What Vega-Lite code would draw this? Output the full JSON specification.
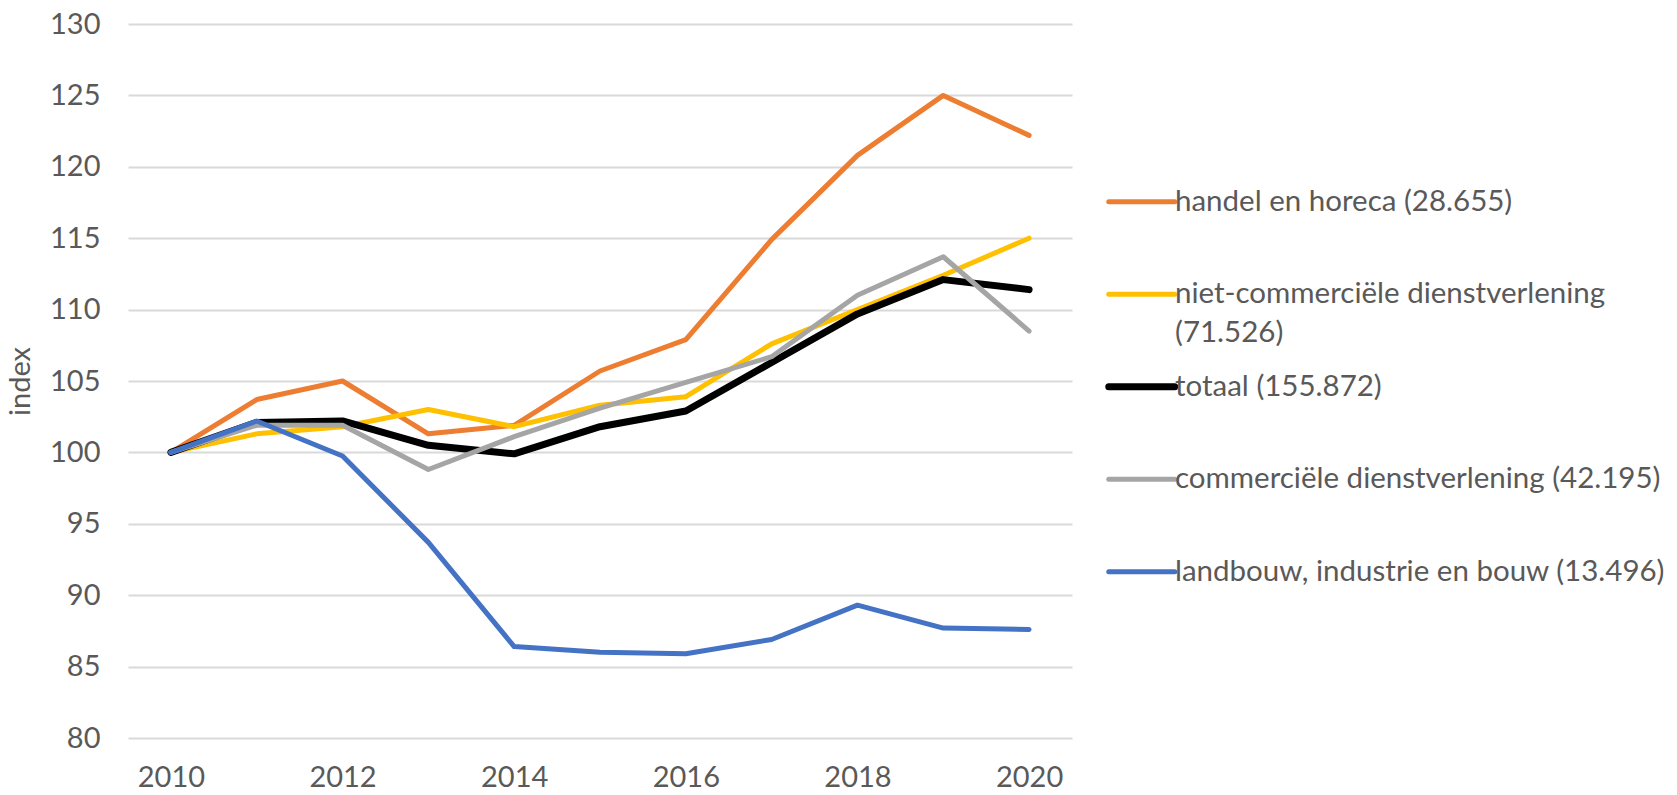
{
  "$schema": "https://vega.github.io/schema/vega-lite/v6.json",
  "autosize": "none",
  "width": 944,
  "height": 714,
  "padding": {"left": 128, "top": 24, "right": 605, "bottom": 57},
  "background": "white",
  "config": {
    "font": "Lato",
    "view": {"stroke": null},
    "axis": {"labelFont": "Lato", "titleFont": "Lato", "labelColor": "#595959", "titleColor": "#595959", "labelFontSize": 29, "titleFontSize": 29, "titleFontWeight": "normal", "gridColor": "#D9D9D9", "gridWidth": 2, "domain": false, "ticks": false}
  },
  "data": {"values": [
    {"sector": "handel en horeca (28.655)", "year": "2010", "index": 100},
    {"sector": "handel en horeca (28.655)", "year": "2011", "index": 103.7},
    {"sector": "handel en horeca (28.655)", "year": "2012", "index": 105.0},
    {"sector": "handel en horeca (28.655)", "year": "2013", "index": 101.3},
    {"sector": "handel en horeca (28.655)", "year": "2014", "index": 101.9},
    {"sector": "handel en horeca (28.655)", "year": "2015", "index": 105.7},
    {"sector": "handel en horeca (28.655)", "year": "2016", "index": 107.9},
    {"sector": "handel en horeca (28.655)", "year": "2017", "index": 114.9},
    {"sector": "handel en horeca (28.655)", "year": "2018", "index": 120.8},
    {"sector": "handel en horeca (28.655)", "year": "2019", "index": 125.0},
    {"sector": "handel en horeca (28.655)", "year": "2020", "index": 122.2},
    {"sector": "niet-commerciële dienstverlening (71.526)", "year": "2010", "index": 100},
    {"sector": "niet-commerciële dienstverlening (71.526)", "year": "2011", "index": 101.3},
    {"sector": "niet-commerciële dienstverlening (71.526)", "year": "2012", "index": 101.8},
    {"sector": "niet-commerciële dienstverlening (71.526)", "year": "2013", "index": 103.0},
    {"sector": "niet-commerciële dienstverlening (71.526)", "year": "2014", "index": 101.8},
    {"sector": "niet-commerciële dienstverlening (71.526)", "year": "2015", "index": 103.3},
    {"sector": "niet-commerciële dienstverlening (71.526)", "year": "2016", "index": 103.9},
    {"sector": "niet-commerciële dienstverlening (71.526)", "year": "2017", "index": 107.6},
    {"sector": "niet-commerciële dienstverlening (71.526)", "year": "2018", "index": 110.0},
    {"sector": "niet-commerciële dienstverlening (71.526)", "year": "2019", "index": 112.4},
    {"sector": "niet-commerciële dienstverlening (71.526)", "year": "2020", "index": 115.0},
    {"sector": "totaal (155.872)", "year": "2010", "index": 100},
    {"sector": "totaal (155.872)", "year": "2011", "index": 102.1},
    {"sector": "totaal (155.872)", "year": "2012", "index": 102.2},
    {"sector": "totaal (155.872)", "year": "2013", "index": 100.5},
    {"sector": "totaal (155.872)", "year": "2014", "index": 99.9},
    {"sector": "totaal (155.872)", "year": "2015", "index": 101.8},
    {"sector": "totaal (155.872)", "year": "2016", "index": 102.9},
    {"sector": "totaal (155.872)", "year": "2017", "index": 106.3},
    {"sector": "totaal (155.872)", "year": "2018", "index": 109.7},
    {"sector": "totaal (155.872)", "year": "2019", "index": 112.1},
    {"sector": "totaal (155.872)", "year": "2020", "index": 111.4},
    {"sector": "commerciële dienstverlening (42.195)", "year": "2010", "index": 100},
    {"sector": "commerciële dienstverlening (42.195)", "year": "2011", "index": 101.9},
    {"sector": "commerciële dienstverlening (42.195)", "year": "2012", "index": 101.9},
    {"sector": "commerciële dienstverlening (42.195)", "year": "2013", "index": 98.8},
    {"sector": "commerciële dienstverlening (42.195)", "year": "2014", "index": 101.1},
    {"sector": "commerciële dienstverlening (42.195)", "year": "2015", "index": 103.1},
    {"sector": "commerciële dienstverlening (42.195)", "year": "2016", "index": 104.9},
    {"sector": "commerciële dienstverlening (42.195)", "year": "2017", "index": 106.7},
    {"sector": "commerciële dienstverlening (42.195)", "year": "2018", "index": 111.0},
    {"sector": "commerciële dienstverlening (42.195)", "year": "2019", "index": 113.7},
    {"sector": "commerciële dienstverlening (42.195)", "year": "2020", "index": 108.5},
    {"sector": "landbouw, industrie en bouw (13.496)", "year": "2010", "index": 100},
    {"sector": "landbouw, industrie en bouw (13.496)", "year": "2011", "index": 102.2},
    {"sector": "landbouw, industrie en bouw (13.496)", "year": "2012", "index": 99.75},
    {"sector": "landbouw, industrie en bouw (13.496)", "year": "2013", "index": 93.7},
    {"sector": "landbouw, industrie en bouw (13.496)", "year": "2014", "index": 86.4},
    {"sector": "landbouw, industrie en bouw (13.496)", "year": "2015", "index": 86.0},
    {"sector": "landbouw, industrie en bouw (13.496)", "year": "2016", "index": 85.9},
    {"sector": "landbouw, industrie en bouw (13.496)", "year": "2017", "index": 86.9},
    {"sector": "landbouw, industrie en bouw (13.496)", "year": "2018", "index": 89.3},
    {"sector": "landbouw, industrie en bouw (13.496)", "year": "2019", "index": 87.7},
    {"sector": "landbouw, industrie en bouw (13.496)", "year": "2020", "index": 87.6}
  ]},
  "mark": {"type": "line", "strokeCap": "round", "strokeJoin": "round"},
  "encoding": {
    "x": {"field": "year", "type": "ordinal", "scale": {"type": "point", "padding": 0.5},
      "axis": {"title": null, "labelAngle": 0, "labelPadding": 25, "grid": false, "values": ["2010", "2012", "2014", "2016", "2018", "2020"]}},
    "y": {"field": "index", "type": "quantitative", "scale": {"domain": [80, 130], "nice": false, "zero": false},
      "axis": {"title": "index", "values": [80, 85, 90, 95, 100, 105, 110, 115, 120, 125, 130], "labelPadding": 28, "titlePadding": 14}},
    "color": {"field": "sector", "type": "nominal",
      "scale": {"domain": ["handel en horeca (28.655)", "niet-commerciële dienstverlening (71.526)", "totaal (155.872)", "commerciële dienstverlening (42.195)", "landbouw, industrie en bouw (13.496)"],
        "range": ["#ED7D31", "#FFC000", "#000000", "#A5A5A5", "#4472C4"]},
      "legend": {"orient": "none", "legendX": 999, "legendY": 163, "title": null, "symbolType": "stroke", "symbolSize": 4356, "symbolStrokeWidth": 5,
        "labelFontSize": 29.5, "labelFont": "Lato", "labelColor": "#595959", "labelOffset": 18.5, "labelLimit": 0, "rowPadding": 22.5, "gridAlign": "all",
        "labelExpr": "datum.label == 'niet-commerciële dienstverlening (71.526)' ? ['niet-commerciële dienstverlening', '(71.526)'] : datum.label",
        "encode": {
          "symbols": {"update": {"strokeWidth": {"signal": "datum.label == 'totaal (155.872)' ? 7 : 5"}, "strokeCap": {"value": "round"}}},
          "labels": {"update": {"lineHeight": {"value": 39}}}
        }}},
    "strokeWidth": {"condition": {"test": "datum.sector == 'totaal (155.872)'", "value": 7}, "value": 5}
  }
}
